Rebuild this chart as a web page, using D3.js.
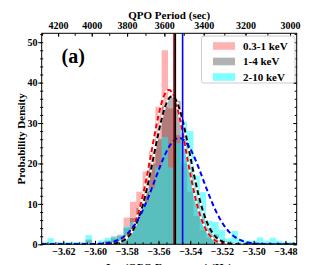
<!DOCTYPE html>
<html>
<head>
<meta charset="utf-8">
<script src="https://cdn.jsdelivr.net/npm/d3@7"></script>
<style>
  body { margin: 0; background: #fff; }
  text { font-family: "Liberation Serif", "Times New Roman", serif; font-weight: bold; fill: #000; }
</style>
</head>
<body>
<div id="chart"></div>
<script>
// histogram bins in log(QPO frequency), 40 bins of equal width
var binStart = -3.634,
    binWidth = 0.004;

// probability density per bin, one list per energy band
var soft = [0, 0, 0, 0, 0, 0, 0, 1.0, 0, 0.5,
            1.0, 2.0, 2.4, 6.6, 10.5, 13.0, 18.0, 23.0, 34.0, 48.0,
            33.6, 27.0, 20.0, 13.0, 7.0, 3.5, 1.6, 0.8, 0.4, 0,
            0, 0, 0, 0, 0, 0, 0, 0, 0, 0];
var medium = [0, 0, 0, 0, 0, 0, 0, 1.2, 0, 0.4,
              0.8, 1.5, 2.0, 4.0, 6.5, 9.0, 13.0, 20.0, 26.0, 34.0,
              36.5, 35.5, 26.0, 19.0, 11.0, 7.0, 4.0, 2.5, 1.2, 0.8,
              0.4, 0, 0, 0, 0, 0, 0, 0, 0, 0];
var hard = [0.6, 1.5, 0.6, 0.6, 0.6, 0.6, 0.6, 2.3, 0.4, 0.95,
            1.6, 1.9, 2.3, 4.4, 5.5, 7.5, 10.5, 14.0, 19.0, 26.5,
            19.0, 25.0, 30.4, 28.0, 17.0, 12.9, 5.8, 5.5, 3.6, 1.4,
            3.3, 1.2, 0.9, 0.9, 1.7, 0.9, 1.6, 0.9, 0.6, 0.6];

// gaussian fits (centre, width, peak) and the marked centres
var fitMu = [-3.5535, -3.5515, -3.547];
var fitSigma = [0.0108, 0.0113, 0.0152];
var fitPeak = [38.2, 36.6, 26.3];
var centres = [-3.5502, -3.5494, -3.5448];

var bandNames = ["0.3-1 keV", "1-4 keV", "2-10 keV"];
var xTicks = [-3.62, -3.60, -3.58, -3.56, -3.54, -3.52, -3.50, -3.48];
var yTicks = [0, 10, 20, 30, 40, 50];
var periodTicks = [4200, 4000, 3800, 3600, 3400, 3200, 3000];

var width = 330, height = 265;
var margin = {top: 33.3, right: 33.3, bottom: 20.7, left: 41.7};

var svg = d3.select("#chart").append("svg")
    .attr("width", width)
    .attr("height", height);

var x = d3.scaleLinear()
    .domain([-3.6336, -3.4729])
    .range([margin.left, width - margin.right]);
var y = d3.scaleLinear()
    .domain([0, 52.2])
    .range([height - margin.bottom, margin.top]);

svg.append("clipPath").attr("id", "plot")
  .append("rect")
    .attr("x", margin.left).attr("y", margin.top)
    .attr("width", width - margin.left - margin.right)
    .attr("height", height - margin.top - margin.bottom);

var plot = svg.append("g").attr("clip-path", "url(#plot)");

// histograms: red, then grey, then cyan on top
var hists = [
  {values: soft, color: "red", alpha: 0.3},
  {values: medium, color: "black", alpha: 0.3},
  {values: hard, color: "cyan", alpha: 0.5}
];
hists.forEach(function(h) {
  plot.append("g").selectAll("rect")
    .data(h.values)
    .enter().append("rect")
      .attr("x", function(d, i) { return x(binStart + i * binWidth); })
      .attr("width", function(d, i) { return x(binStart + (i + 1) * binWidth) - x(binStart + i * binWidth); })
      .attr("y", function(d) { return y(d); })
      .attr("height", function(d) { return y(0) - y(d); })
      .attr("fill", h.color)
      .attr("fill-opacity", h.alpha);
});

// gaussian fit curves
var fitColors = ["red", "black", "blue"];
var grid = d3.range(0, 401).map(function(k) { return x.domain()[0] + k * (x.domain()[1] - x.domain()[0]) / 400; });
var line = d3.line()
    .x(function(d) { return x(d[0]); })
    .y(function(d) { return y(d[1]); });

fitMu.forEach(function(mu, j) {
  var pts = grid.map(function(v) {
    var z = (v - mu) / fitSigma[j];
    return [v, fitPeak[j] * Math.exp(-0.5 * z * z)];
  });
  if (j < 2) {
    plot.append("path").datum(pts)
      .attr("d", line).attr("fill", "none")
      .attr("stroke", "#fff").attr("stroke-width", 2);
  }
  plot.append("path").datum(pts)
    .attr("d", line).attr("fill", "none")
    .attr("stroke", fitColors[j]).attr("stroke-width", 2)
    .attr("stroke-dasharray", "5,3");
});

// vertical lines at the centres
var lineColors = ["#a00000", "black", "blue"];
centres.forEach(function(c, j) {
  plot.append("line")
    .attr("x1", x(c)).attr("x2", x(c))
    .attr("y1", margin.top).attr("y2", height - margin.bottom)
    .attr("stroke", lineColors[j]).attr("stroke-width", 1.6);
});

// axes
function styleTicks(g, size) {
  g.select(".domain").remove();
  g.selectAll("line").attr("stroke", "#000").attr("stroke-width", 1);
  g.selectAll("text").attr("font-family", null).style("font-size", size + "px");
  g.attr("font-family", null).attr("font-size", null);
}

var fmt = d3.format(".2f");
svg.append("g")
  .attr("transform", "translate(0," + y(0) + ")")
  .call(d3.axisBottom(x).tickValues(xTicks).tickFormat(fmt).tickSize(-3.5).tickSizeOuter(0).tickPadding(4))
  .call(styleTicks, 10);
svg.append("g")
  .attr("transform", "translate(0," + y(0) + ")")
  .call(d3.axisBottom(x).tickValues(d3.range(-3.630, -3.474, 0.005)).tickFormat("").tickSize(-2).tickSizeOuter(0))
  .call(styleTicks, 10);

svg.append("g")
  .attr("transform", "translate(" + margin.left + ",0)")
  .call(d3.axisLeft(y).tickValues(yTicks).tickSize(3.5).tickSizeOuter(0).tickPadding(0.8))
  .call(styleTicks, 10);
svg.append("g")
  .attr("transform", "translate(" + (margin.left + 1.5) + ",0)")
  .call(d3.axisLeft(y).tickValues(d3.range(0, 53, 2)).tickFormat("").tickSize(3).tickSizeOuter(0))
  .call(styleTicks, 10);

svg.append("g")
  .attr("transform", "translate(" + (width - margin.right) + ",0)")
  .call(d3.axisRight(y).tickValues(yTicks).tickFormat("").tickSize(-3.5).tickSizeOuter(0))
  .call(styleTicks, 10);
svg.append("g")
  .attr("transform", "translate(" + (width - margin.right) + ",0)")
  .call(d3.axisRight(y).tickValues(d3.range(0, 53, 2)).tickFormat("").tickSize(-2).tickSizeOuter(0))
  .call(styleTicks, 10);

// top axis: QPO period = 1 / frequency
var periodPos = function(p) { return Math.log10(1 / p); };
svg.append("g")
  .attr("transform", "translate(0," + margin.top + ")")
  .call(d3.axisTop(x).tickValues(periodTicks.map(periodPos)).tickFormat(function(v) { return d3.format(".0f")(1 / Math.pow(10, v)); })
        .tickSize(-3.5).tickSizeOuter(0).tickPadding(4.8))
  .call(styleTicks, 10);
svg.append("g")
  .attr("transform", "translate(0," + margin.top + ")")
  .call(d3.axisTop(x).tickValues(d3.range(4300, 2950, -100).map(periodPos)).tickFormat("").tickSize(-2.5).tickSizeOuter(0))
  .call(styleTicks, 10);

// frame
svg.append("rect")
  .attr("x", margin.left).attr("y", margin.top)
  .attr("width", width - margin.left - margin.right)
  .attr("height", height - margin.top - margin.bottom)
  .attr("fill", "none").attr("stroke", "#000").attr("stroke-width", 1);

// titles
svg.append("text")
  .attr("x", (margin.left + width - margin.right) / 2).attr("y", 19)
  .attr("text-anchor", "middle").style("font-size", "11px")
  .text("QPO Period (sec)");
svg.append("text")
  .attr("x", (margin.left + width - margin.right) / 2).attr("y", 271)
  .attr("text-anchor", "middle").style("font-size", "11px")
  .text("Log(QPO Frequency) (Hz)");
svg.append("text")
  .attr("transform", "translate(25," + (margin.top + height - margin.bottom) / 2 + ") rotate(-90)")
  .attr("text-anchor", "middle").style("font-size", "11px")
  .text("Probability Density");
svg.append("text")
  .attr("x", 61.5).attr("y", 63)
  .style("font-size", "20px")
  .text("(a)");

// legend
var legend = svg.append("g");
legend.append("rect")
  .attr("x", 201.5).attr("y", 36).attr("width", 93.5).attr("height", 47)
  .attr("rx", 2.5)
  .attr("fill", "#fff").attr("fill-opacity", 0.8)
  .attr("stroke", "#cccccc").attr("stroke-width", 1);
bandNames.forEach(function(name, j) {
  var cy = 46 + j * 15.5;
  legend.append("rect")
    .attr("x", 213).attr("y", cy - 3.8).attr("width", 22).attr("height", 7.6)
    .attr("fill", hists[j].color).attr("fill-opacity", hists[j].alpha);
  legend.append("text")
    .attr("x", 243).attr("y", cy + 3.8)
    .style("font-size", "11px")
    .text(name);
});
</script>
</body>
</html>
